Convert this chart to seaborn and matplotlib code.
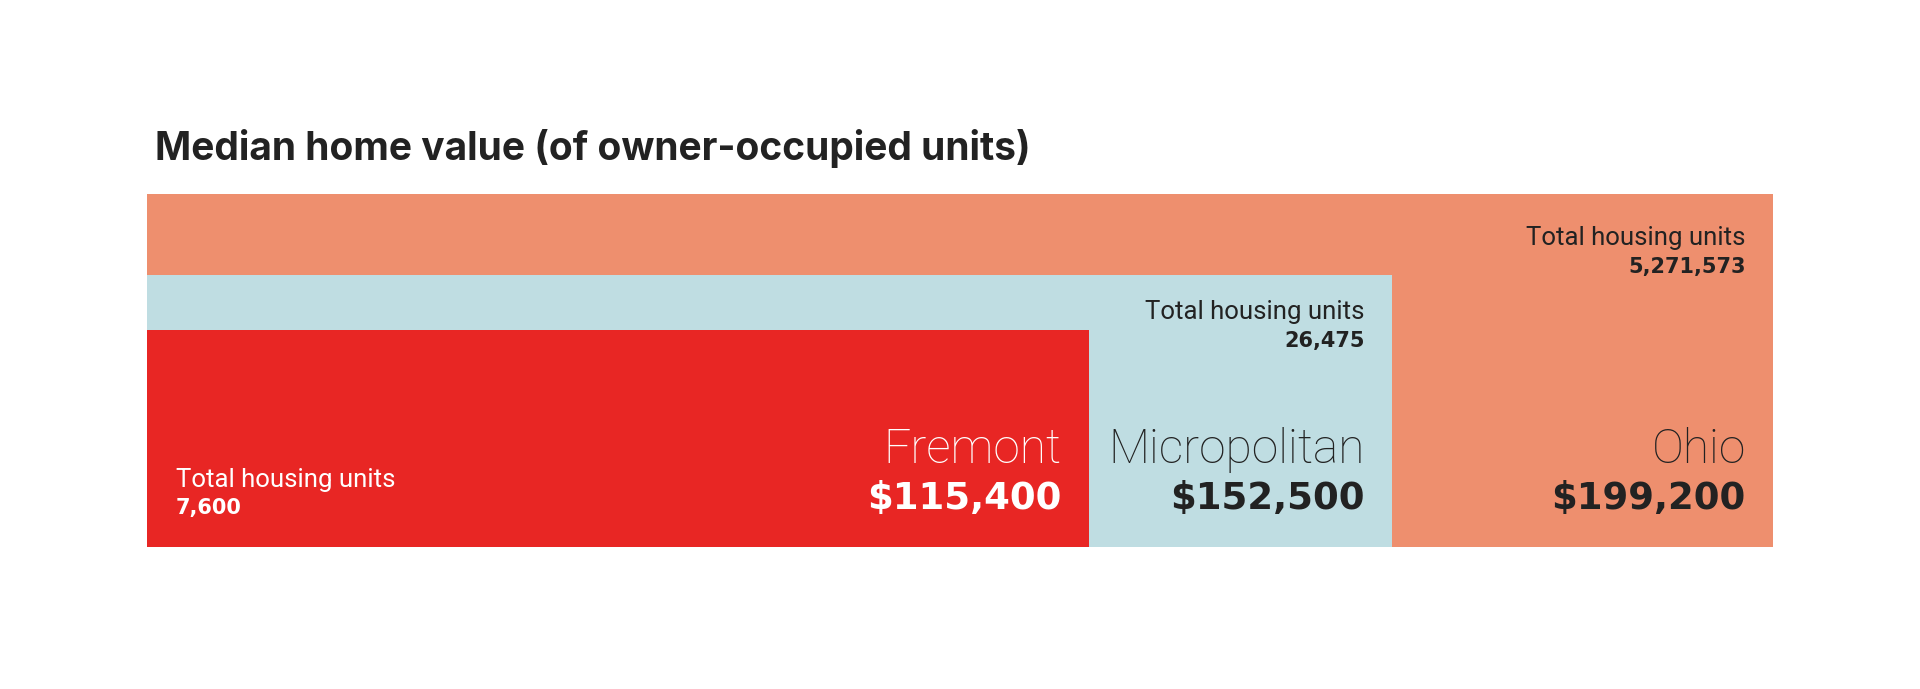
import matplotlib
matplotlib.use("Agg")
import matplotlib.pyplot as plt
import seaborn as sns

# ---- data -------------------------------------------------------------
places = ["Fremont", "Micropolitan", "Ohio"]
median_values = [115400, 152500, 199200]
housing_units = [7600, 26475, 5271573]
value_labels = ["$115,400", "$152,500", "$199,200"]
unit_labels = ["7,600", "26,475", "5,271,573"]
unit_caption = "Total housing units"
title = "Median home value (of owner-occupied units)"

# ---- style / layout ---------------------------------------------------
sns.set_theme(style="white")
plt.rcParams["font.family"] = ["Roboto", "DejaVu Sans"]

colors = {"Fremont": "#E82624", "Micropolitan": "#BFDDE2", "Ohio": "#EE8F6E"}
text_colors = {"Fremont": "white", "Micropolitan": "#222222", "Ohio": "#222222"}
tier_height = {"Fremont": 216.4, "Micropolitan": 271.7, "Ohio": 352.7}  # design tiers (px)

W, H = 1920, 689
fig = plt.figure(figsize=(W / 100, H / 100), dpi=100)
fig.patch.set_facecolor("white")
ax = fig.add_axes([147 / W, (H - 546.7) / H, 1625.7 / W, 352.7 / H])
ax.set_xlim(0, 199200)
ax.set_ylim(0, 352.7)
ax.set_axis_off()

# draw largest first so smaller ones overlap
order = sorted(range(len(places)), key=lambda i: -median_values[i])
for i in order:
    p = places[i]
    ax.barh(y=0, width=median_values[i], height=tier_height[p], left=0,
            align="edge", color=colors[p], linewidth=0)

NAME_FS, VAL_FS, CAP_FS, NUM_FS = 34.5, 26.7, 18.5, 15
name_font = dict(family=["Roboto", "DejaVu Sans"], fontweight="light")
cap_font = dict(family=["Roboto", "DejaVu Sans"], fontweight="normal")
bold_font = dict(family=["DejaVu Sans"], fontweight="bold")

RX = -27
for i, p in enumerate(places):
    v = median_values[i]
    tc = text_colors[p]
    ax.annotate(p, xy=(v, 0), xytext=(RX, 84), textcoords="offset pixels",
                ha="right", va="baseline", fontsize=NAME_FS, color=tc, **name_font)
    ax.annotate(value_labels[i], xy=(v, 0), xytext=(RX, 37.5), textcoords="offset pixels",
                ha="right", va="baseline", fontsize=VAL_FS, color=tc, **bold_font)
    if p == "Fremont":
        ax.annotate(unit_caption, xy=(0, 0), xytext=(29, 59.7), textcoords="offset pixels",
                    ha="left", va="baseline", fontsize=CAP_FS, color=tc, **cap_font)
        ax.annotate(unit_labels[i], xy=(0, 0), xytext=(29, 33), textcoords="offset pixels",
                    ha="left", va="baseline", fontsize=NUM_FS, color=tc, **bold_font)
    else:
        top = tier_height[p]
        dy = -50.5 if p == "Ohio" else -44
        ax.annotate(unit_caption, xy=(v, top), xytext=(RX, dy), textcoords="offset pixels",
                    ha="right", va="baseline", fontsize=CAP_FS, color=tc, **cap_font)
        ax.annotate(unit_labels[i], xy=(v, top), xytext=(RX, dy - 28), textcoords="offset pixels",
                    ha="right", va="baseline", fontsize=NUM_FS, color=tc, **bold_font)

fig.text(155 / W, 1 - 160.5 / H, title, ha="left", va="baseline",
         fontsize=28, color="#222222", family=["Inter", "DejaVu Sans"], fontweight="bold")

fig.savefig("out.png", dpi=100, facecolor="white")
